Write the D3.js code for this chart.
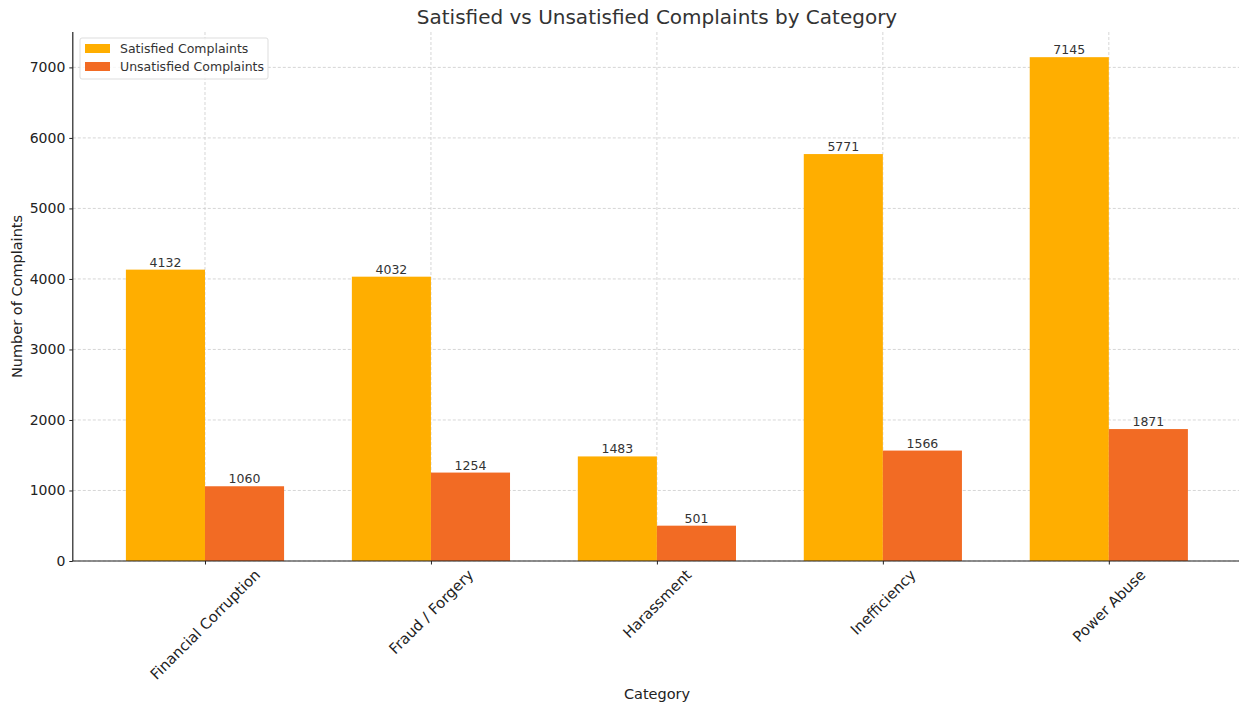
<!DOCTYPE html>
<html><head><meta charset="utf-8">
<script src="https://cdn.jsdelivr.net/npm/d3@7"></script>
<style>body{margin:0;background:#fff}svg{display:block;font-family:"DejaVu Sans",sans-serif}</style>
</head><body><svg id="c" width="1239" height="704"></svg>
<script>
const categories = ["Financial Corruption","Fraud / Forgery","Harassment","Inefficiency","Power Abuse"];
const satisfied = [4132, 4032, 1483, 5771, 7145];
const unsatisfied = [1060, 1254, 501, 1566, 1871];
const seriesNames = ["Satisfied Complaints","Unsatisfied Complaints"];
const yTicks = [0,1000,2000,3000,4000,5000,6000,7000];
const colors = ["#FFAE00","#F26B24"];

const svg = d3.select("#c");
const L = 72.8, R = 1241, T = 32, B = 561;
const barW = 0.35;
const x = d3.scaleLinear().domain([-0.585, 4.585]).range([L, R]);
const y = d3.scaleLinear().domain([0, 7502]).range([B, T]);

// grid
const g = svg.append("g");
g.selectAll(".gy").data(yTicks).join("line")
  .attr("x1", L).attr("x2", R).attr("y1", d => y(d)).attr("y2", d => y(d))
  .attr("stroke", "#cccccc").attr("stroke-width", 0.8).attr("stroke-dasharray", "3,2");
g.selectAll(".gx").data(categories).join("line")
  .attr("x1", (d,i) => x(i)).attr("x2", (d,i) => x(i)).attr("y1", T).attr("y2", B)
  .attr("stroke", "#cccccc").attr("stroke-width", 0.8).attr("stroke-dasharray", "3,2");

// bars
const series = [satisfied, unsatisfied];
series.forEach((vals, s) => {
  const off = s === 0 ? -barW : 0;
  svg.append("g").selectAll("rect").data(vals).join("rect")
    .attr("x", (d,i) => x(i + off)).attr("width", x(barW) - x(0))
    .attr("y", d => y(d)).attr("height", d => B - y(d))
    .attr("fill", colors[s]);
  svg.append("g").selectAll("text").data(vals).join("text")
    .attr("x", (d,i) => x(i + off + barW/2)).attr("y", d => y(d) - 3)
    .attr("text-anchor", "middle").attr("font-size", 12.5).attr("fill", "#333")
    .text(d => d);
});

// axes
const ya = svg.append("g").attr("transform", `translate(${L},0)`)
  .call(d3.axisLeft(y).tickValues(yTicks).tickFormat(d3.format("d")).tickSize(3.5).tickPadding(4));
ya.select(".domain").remove();
ya.selectAll("text").attr("font-size", 14).attr("fill", "#222").attr("font-family", "DejaVu Sans");
ya.selectAll("line").attr("stroke", "#222");
svg.append("line").attr("x1", L).attr("x2", L).attr("y1", T).attr("y2", B).attr("stroke", "#222").attr("stroke-width", 1.2);
svg.append("line").attr("x1", L).attr("x2", R).attr("y1", B).attr("y2", B).attr("stroke", "#222").attr("stroke-width", 1.2);

const xa = svg.append("g").attr("transform", `translate(0,${B})`)
  .call(d3.axisBottom(x).tickValues(d3.range(categories.length)).tickSize(3.5).tickFormat(""));
xa.select(".domain").remove();
xa.selectAll("line").attr("stroke", "#222");

categories.forEach((c, i) => {
  const t = svg.append("text").attr("font-size", 14.8).attr("fill", "#222")
    .attr("text-anchor", "middle").attr("dominant-baseline", "central").text(c);
  const len = t.node().getComputedTextLength();
  const h = 14;
  const bh = (len + h) * Math.SQRT1_2;
  const cx = x(i), cy = B + 6 + bh / 2;
  t.attr("x", cx).attr("y", cy).attr("transform", `rotate(-45,${cx},${cy})`);
});

// labels
svg.append("text").attr("x", 657).attr("y", 24).attr("text-anchor", "middle")
  .attr("font-size", 20).attr("fill", "#333").text("Satisfied vs Unsatisfied Complaints by Category");
svg.append("text").attr("x", 657).attr("y", 699).attr("text-anchor", "middle")
  .attr("font-size", 14.5).attr("fill", "#222").text("Category");
svg.append("text").attr("transform", `translate(22,${(T+B)/2}) rotate(-90)`).attr("text-anchor", "middle")
  .attr("font-size", 14.5).attr("fill", "#222").text("Number of Complaints");

// legend
const lg = svg.append("g");
lg.append("rect").attr("x", 80).attr("y", 38).attr("width", 188).attr("height", 41).attr("rx", 2)
  .attr("fill", "#fff").attr("fill-opacity", 0.8).attr("stroke", "#ddd");
seriesNames.forEach((n, i) => {
  lg.append("rect").attr("x", 85).attr("y", 44 + i*18).attr("width", 25).attr("height", 9).attr("fill", colors[i]);
  lg.append("text").attr("x", 120).attr("y", 53 + i*18).attr("font-size", 12.5).attr("fill", "#333").text(n);
});
</script></body></html>
